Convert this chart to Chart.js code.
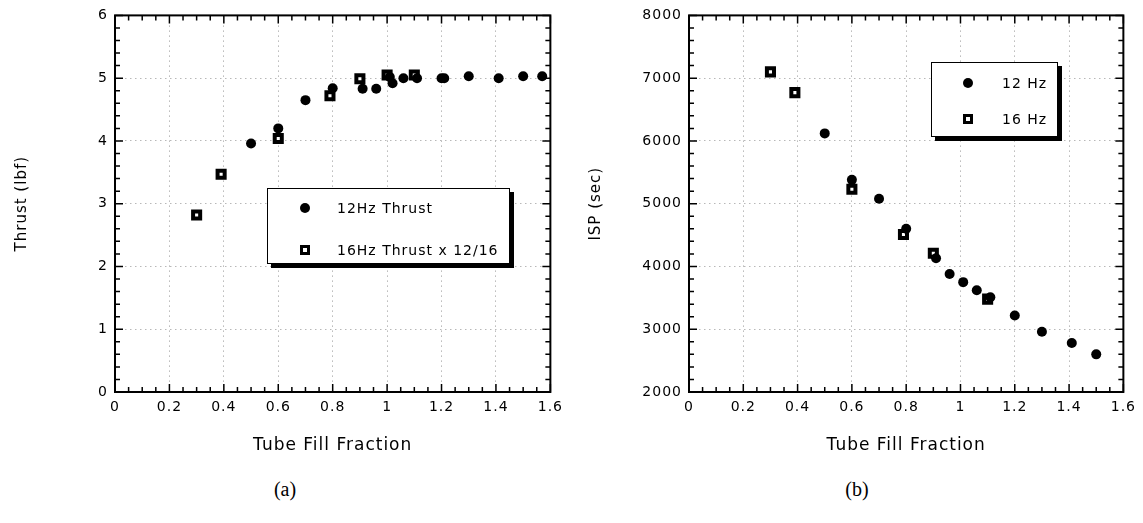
<!DOCTYPE html>
<html>
<head>
<meta charset="utf-8">
<script src="https://cdn.jsdelivr.net/npm/chart.js@4.4.1/dist/chart.umd.min.js"></script>
<style>
  body { margin: 0; background: #fff; width: 1143px; height: 523px; position: relative; overflow: hidden; font-family: "DejaVu Sans", sans-serif; color: #000; }
  canvas { position: absolute; top: 0; }
  #thrustChart { left: 0; }
  #ispChart { left: 570px; }
  .legend { position: absolute; box-sizing: border-box; border: 1.5px solid #000; box-shadow: 4px 4px 0 #000; background: #fff; font-size: 14px; letter-spacing: 1px; }
  .legend .txt { position: absolute; white-space: nowrap; line-height: 16px; }
  .legend .mark { position: absolute; box-sizing: border-box; background: #000; }
  .caption { position: absolute; top: 478px; transform: translateX(-50%); font-family: "Liberation Serif", serif; font-size: 20px; }
</style>
</head>
<body>
<canvas id="thrustChart" width="570" height="470"></canvas>
<canvas id="ispChart" width="573" height="470"></canvas>
<div class="caption" style="left:285px">(a)</div>
<div class="caption" style="left:857px">(b)</div>
<script>
// shared x axis
const xTicks = [0, 0.2, 0.4, 0.6, 0.8, 1, 1.2, 1.4, 1.6];

// (a) thrust
const thrustLabels = ['12Hz Thrust', '16Hz Thrust x 12/16'];
const thrustTicks = [0, 1, 2, 3, 4, 5, 6];
const thrust12x = [0.50, 0.60, 0.70, 0.80, 0.91, 0.96, 1.01, 1.02, 1.06, 1.11, 1.20, 1.21, 1.30, 1.41, 1.50, 1.57];
const thrust12y = [3.96, 4.20, 4.65, 4.84, 4.83, 4.83, 5.02, 4.92, 5.00, 5.00, 5.00, 5.00, 5.03, 5.00, 5.03, 5.03];
const thrust16x = [0.30, 0.39, 0.60, 0.79, 0.90, 1.00, 1.10];
const thrust16y = [2.82, 3.47, 4.04, 4.72, 4.99, 5.05, 5.05];

// (b) ISP
const ispLabels = ['12 Hz', '16 Hz'];
const ispTicks = [2000, 3000, 4000, 5000, 6000, 7000, 8000];
const isp12x = [0.50, 0.60, 0.70, 0.80, 0.91, 0.96, 1.01, 1.06, 1.11, 1.20, 1.30, 1.41, 1.50];
const isp12y = [6120, 5380, 5080, 4600, 4130, 3880, 3750, 3620, 3510, 3220, 2960, 2780, 2600];
const isp16x = [0.30, 0.39, 0.60, 0.79, 0.90, 1.10];
const isp16y = [7100, 6770, 5230, 4510, 4210, 3480];

const font = 'DejaVu Sans';

// canvas text in the original is a bit spread out
const spacing = {
    id: 'spacing',
    beforeLayout(chart) { chart.ctx.letterSpacing = '1px'; },
    beforeDraw(chart) { chart.ctx.letterSpacing = '1px'; }
};

// box frame with inward major/minor tick marks on all four sides
const boxTicks = {
    id: 'boxTicks',
    beforeDatasetsDraw(chart, args, opts) {
        const {ctx, chartArea: a, scales: {x, y}} = chart;
        ctx.save();
        ctx.strokeStyle = '#000';
        ctx.lineWidth = 2;
        ctx.strokeRect(a.left, a.top, a.right - a.left, a.bottom - a.top);
        ctx.lineWidth = 1.5;
        const marks = (scale, n, fn) => {
            const t = scale.ticks.map(k => k.value);
            const step = (t[1] - t[0]) / n;
            for (let i = 0; i <= (t.length - 1) * n; i++) {
                fn(scale.getPixelForValue(t[0] + i * step), i % n === 0 ? 8 : 5);
            }
        };
        ctx.beginPath();
        marks(x, opts.minorX, (p, len) => {
            ctx.moveTo(p, a.bottom); ctx.lineTo(p, a.bottom - len);
            ctx.moveTo(p, a.top); ctx.lineTo(p, a.top + len);
        });
        marks(y, opts.minorY, (p, len) => {
            ctx.moveTo(a.left, p); ctx.lineTo(a.left + len, p);
            ctx.moveTo(a.right, p); ctx.lineTo(a.right - len, p);
        });
        ctx.stroke();
        ctx.restore();
    }
};

const pts = (xs, ys) => xs.map((x, i) => ({x: x, y: ys[i]}));

const makeChart = (id, o) => {
    return new Chart(document.getElementById(id), {
        type: 'scatter',
        data: {
            datasets: [{
                label: o.labels[0],
                data: pts(o.x12, o.y12),
                pointStyle: 'circle',
                pointRadius: 5,
                backgroundColor: '#000',
                borderColor: '#000',
                borderWidth: 0
            }, {
                label: o.labels[1],
                data: pts(o.x16, o.y16),
                pointStyle: 'rect',
                pointRadius: 5,
                backgroundColor: '#fff',
                borderColor: '#000',
                borderWidth: 4
            }]
        },
        options: {
            responsive: false,
            animation: false,
            events: [],
            layout: { padding: { top: 14, right: 17, left: 0, bottom: 0 } },
            plugins: {
                legend: { display: false },
                tooltip: { enabled: false },
                boxTicks: { minorX: 4, minorY: 5 }
            },
            scales: {
                x: {
                    type: 'linear', min: 0, max: 1.6,
                    afterBuildTicks: s => { s.ticks = xTicks.map(v => ({value: v})); },
                    afterFit: s => { s.height = 78; },
                    ticks: { padding: 7, maxRotation: 0, autoSkip: false, color: '#000', font: {family: font, size: 14},
                             callback: v => String(Math.round(v * 10) / 10) },
                    grid: { color: '#b8b8b8', lineWidth: 1, drawTicks: false },
                    border: { display: false, dash: [1.5, 3.5] },
                    title: { display: true, text: 'Tube Fill Fraction', color: '#000',
                             font: {family: font, size: 17}, padding: {top: 0, bottom: 14} }
                },
                y: {
                    type: 'linear', min: o.yTicks[0], max: o.yTicks[o.yTicks.length - 1],
                    afterBuildTicks: s => { s.ticks = o.yTicks.map(v => ({value: v})); },
                    afterFit: s => { s.width = o.yWidth; },
                    ticks: { padding: 7, color: '#000', font: {family: font, size: 14}, callback: v => String(v) },
                    grid: { color: '#b8b8b8', lineWidth: 1, drawTicks: false },
                    border: { display: false, dash: [1.5, 3.5] },
                    title: { display: true, text: o.yTitle, color: '#000',
                             font: {family: font, size: 15}, padding: {top: o.titlePad, bottom: 0} }
                }
            }
        },
        plugins: [spacing, boxTicks]
    });
};

// legend drawn as a box over the plot, items taken from the datasets
const buildLegend = (chart, box) => {
    const el = document.createElement('div');
    el.className = 'legend';
    el.style.cssText = `left:${box.left}px;top:${box.top}px;width:${box.w}px;height:${box.h}px`;
    chart.data.datasets.forEach((ds, i) => {
        const cy = box.rows[i];
        const m = document.createElement('span');
        m.className = 'mark';
        if (ds.pointStyle === 'circle') {
            m.style.cssText = `left:${box.mx - 5}px;top:${cy - 5}px;width:10px;height:10px;border-radius:50%`;
        } else {
            m.style.cssText = `left:${box.mx - 5}px;top:${cy - 5}px;width:10px;height:10px;background:#fff;border:3.5px solid #000`;
        }
        const t = document.createElement('span');
        t.className = 'txt';
        t.textContent = ds.label;
        t.style.cssText = `left:${box.tx}px;top:${cy - 8}px`;
        el.appendChild(m);
        el.appendChild(t);
    });
    document.body.appendChild(el);
};

const thrustChart = makeChart('thrustChart', {
    labels: thrustLabels, x12: thrust12x, y12: thrust12y, x16: thrust16x, y16: thrust16y,
    yTicks: thrustTicks, yWidth: 115, yTitle: 'Thrust (lbf)', titlePad: 13
});
const ispChart = makeChart('ispChart', {
    labels: ispLabels, x12: isp12x, y12: isp12y, x16: isp16x, y16: isp16y,
    yTicks: ispTicks, yWidth: 119, yTitle: 'ISP (sec)', titlePad: 17
});

buildLegend(thrustChart, {left: 267, top: 188, w: 243, h: 76, mx: 37, tx: 69, rows: [19, 61]});
buildLegend(ispChart, {left: 931, top: 62, w: 127, h: 75, mx: 36, tx: 70, rows: [20, 56]});
</script>
</body>
</html>
